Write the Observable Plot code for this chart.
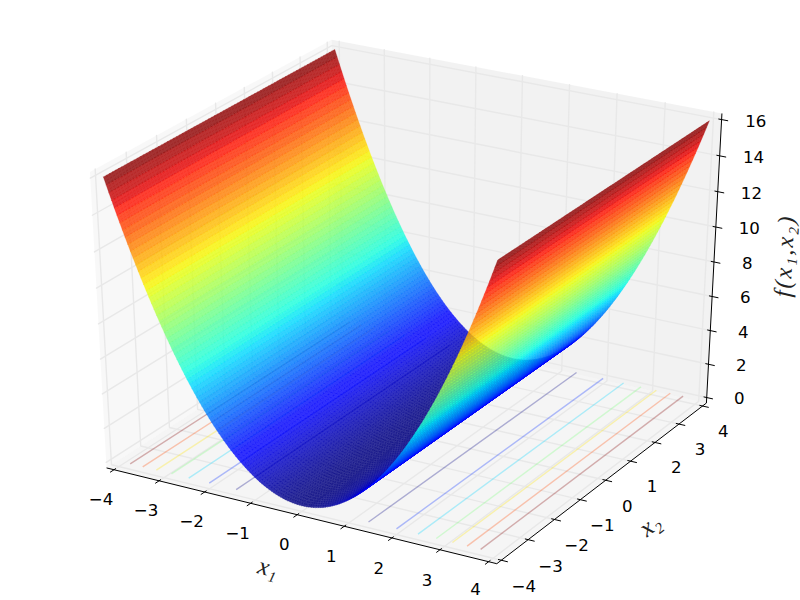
<!DOCTYPE html>
<html>
<head>
<meta charset="utf-8">
<script src="https://cdn.jsdelivr.net/npm/d3@7"></script>
<script src="https://cdn.jsdelivr.net/npm/@observablehq/plot@0.6"></script>
<style>html,body{margin:0;padding:0;background:#fff}svg{display:block}.wide text{letter-spacing:2px}</style>
</head>
<body>
<div id="chart"></div>
<script>
const x1Values = [-4,-3.95,-3.9,-3.85,-3.8,-3.75,-3.7,-3.65,-3.6,-3.55,-3.5,-3.45,-3.4,-3.35,-3.3,-3.25,-3.2,-3.15,-3.1,-3.05,-3,-2.95,-2.9,-2.85,-2.8,-2.75,-2.7,-2.65,-2.6,-2.55,-2.5,-2.45,-2.4,-2.35,-2.3,-2.25,-2.2,-2.15,-2.1,-2.05,-2,-1.95,-1.9,-1.85,-1.8,-1.75,-1.7,-1.65,-1.6,-1.55,-1.5,-1.45,-1.4,-1.35,-1.3,-1.25,-1.2,-1.15,-1.1,-1.05,-1,-0.95,-0.9,-0.85,-0.8,-0.75,-0.7,-0.65,-0.6,-0.55,-0.5,-0.45,-0.4,-0.35,-0.3,-0.25,-0.2,-0.15,-0.1,-0.05,0,0.05,0.1,0.15,0.2,0.25,0.3,0.35,0.4,0.45,0.5,0.55,0.6,0.65,0.7,0.75,0.8,0.85,0.9,0.95,1,1.05,1.1,1.15,1.2,1.25,1.3,1.35,1.4,1.45,1.5,1.55,1.6,1.65,1.7,1.75,1.8,1.85,1.9,1.95,2,2.05,2.1,2.15,2.2,2.25,2.3,2.35,2.4,2.45,2.5,2.55,2.6,2.65,2.7,2.75,2.8,2.85,2.9,2.95,3,3.05,3.1,3.15,3.2,3.25,3.3,3.35,3.4,3.45,3.5,3.55,3.6,3.65,3.7,3.75,3.8,3.85,3.9,3.95,4];
const fValues = [16,15.6025,15.21,14.8225,14.44,14.0625,13.69,13.3225,12.96,12.6025,12.25,11.9025,11.56,11.2225,10.89,10.5625,10.24,9.9225,9.61,9.3025,9,8.7025,8.41,8.1225,7.84,7.5625,7.29,7.0225,6.76,6.5025,6.25,6.0025,5.76,5.5225,5.29,5.0625,4.84,4.6225,4.41,4.2025,4,3.8025,3.61,3.4225,3.24,3.0625,2.89,2.7225,2.56,2.4025,2.25,2.1025,1.96,1.8225,1.69,1.5625,1.44,1.3225,1.21,1.1025,1,0.9025,0.81,0.7225,0.64,0.5625,0.49,0.4225,0.36,0.3025,0.25,0.2025,0.16,0.1225,0.09,0.0625,0.04,0.0225,0.01,0.0025,0,0.0025,0.01,0.0225,0.04,0.0625,0.09,0.1225,0.16,0.2025,0.25,0.3025,0.36,0.4225,0.49,0.5625,0.64,0.7225,0.81,0.9025,1,1.1025,1.21,1.3225,1.44,1.5625,1.69,1.8225,1.96,2.1025,2.25,2.4025,2.56,2.7225,2.89,3.0625,3.24,3.4225,3.61,3.8025,4,4.2025,4.41,4.6225,4.84,5.0625,5.29,5.5225,5.76,6.0025,6.25,6.5025,6.76,7.0225,7.29,7.5625,7.84,8.1225,8.41,8.7025,9,9.3025,9.61,9.9225,10.24,10.5625,10.89,11.2225,11.56,11.9025,12.25,12.6025,12.96,13.3225,13.69,14.0625,14.44,14.8225,15.21,15.6025,16];
const x2Values = [-4,-3.9,-3.8,-3.7,-3.6,-3.5,-3.4,-3.3,-3.2,-3.1,-3,-2.9,-2.8,-2.7,-2.6,-2.5,-2.4,-2.3,-2.2,-2.1,-2,-1.9,-1.8,-1.7,-1.6,-1.5,-1.4,-1.3,-1.2,-1.1,-1,-0.9,-0.8,-0.7,-0.6,-0.5,-0.4,-0.3,-0.2,-0.1,0,0.1,0.2,0.3,0.4,0.5,0.6,0.7,0.8,0.9,1,1.1,1.2,1.3,1.4,1.5,1.6,1.7,1.8,1.9,2,2.1,2.2,2.3,2.4,2.5,2.6,2.7,2.8,2.9,3,3.1,3.2,3.3,3.4,3.5,3.6,3.7,3.8,3.9,4];
const contourLevels = [2,4,6,8,10,12,14];
const contourX1 = [1.414,2,2.449,2.828,3.162,3.464,3.742];
const xTicks = [-4,-3,-2,-1,0,1,2,3,4];
const xTickLabels = ["−4","−3","−2","−1","0","1","2","3","4"];
const zTicks = [0,2,4,6,8,10,12,14,16];
const zTickLabels = ["0","2","4","6","8","10","12","14","16"];

// mplot3d view: elev 30, azim -60, dist 10
const rad = Math.PI/180, el = 30*rad, az = -60*rad, dist = 10;
const n = [Math.cos(el)*Math.cos(az), Math.cos(el)*Math.sin(az), Math.sin(el)];
const uLen = Math.hypot(n[1], n[0]);
const u = [-n[1]/uLen, n[0]/uLen, 0];
const v = [n[1]*u[2]-n[2]*u[1], n[2]*u[0]-n[0]*u[2], n[0]*u[1]-n[1]*u[0]];
const dot = (a,b)=>a[0]*b[0]+a[1]*b[1]+a[2]*b[2];
const project = ([X,Y,Z]) => {
  const p = [X-.5, Y-.5, Z-.5], w = dist - dot(n,p);
  return {px: dot(u,p)/w, py: dot(v,p)/w, depth: dot(n,p)};
};
const nx = x => (x+4)/8, nz = z => z/16;

const lo = -1/48, hi = 1+1/48, d = 1/12;
const rows = (id, pts, extra={}) => pts.map(P => ({id, ...project(P), ...extra}));

const panes = [
  ...rows("px",[[lo,lo,lo],[lo,hi,lo],[lo,hi,hi],[lo,lo,hi],[lo,lo,lo]],{shade:"#f2f2f2"}),
  ...rows("py",[[lo,hi,lo],[hi,hi,lo],[hi,hi,hi],[lo,hi,hi],[lo,hi,lo]],{shade:"#e6e6e6"}),
  ...rows("pz",[[lo,lo,lo],[hi,lo,lo],[hi,hi,lo],[lo,hi,lo],[lo,lo,lo]],{shade:"#ececec"})
];
const grid = [
  ...xTicks.flatMap(t => rows("gx"+t,[[nx(t),lo,lo],[nx(t),hi,lo],[nx(t),hi,hi]])),
  ...xTicks.flatMap(t => rows("gy"+t,[[hi,nx(t),lo],[lo,nx(t),lo],[lo,nx(t),hi]])),
  ...zTicks.flatMap(t => rows("gz"+t,[[lo,lo,nz(t)],[lo,hi,nz(t)],[hi,hi,nz(t)]]))
];
const axesLines = [
  ...rows("ax",[[lo,lo,lo],[hi,lo,lo]]),
  ...rows("ay",[[hi,lo,lo],[hi,hi,lo]]),
  ...rows("az",[[hi,hi,lo],[hi,hi,hi]]),
  ...xTicks.flatMap(t => rows("tx"+t,[[nx(t),lo+.1*d,lo],[nx(t),lo-.2*d,lo]])),
  ...xTicks.flatMap(t => rows("ty"+t,[[hi-.1*d,nx(t),lo],[hi+.2*d,nx(t),lo]])),
  ...zTicks.flatMap(t => rows("tz"+t,[[hi-.1*d,hi,nz(t)],[hi+.2*d,hi,nz(t)]]))
];
const sp = .7*d;
const xTickText = xTicks.map((t,i)=>({...project([nx(t),lo-sp,lo-sp]),label:xTickLabels[i]}));
const tickText = [
  ...xTickText.slice(0,-1),
  ...xTicks.map((t,i)=>({...project([hi+sp,nx(t),lo-sp]),label:xTickLabels[i]})),
  ...zTicks.map((t,i)=>({...project([hi+sp,hi+sp,nz(t)]),label:zTickLabels[i]}))
];
const lastTickText = xTickText.slice(-1);
const lp = 1.3*d;
const x1Text = [{...project([.5,lo-lp,lo-lp]),label:"x₁",rot:14}];
const x2Text = [{...project([hi+lp,.5,lo-lp]),label:"x₂",rot:-38}];
const fText = [{...project([hi+lp,hi+lp,.5]),label:"f(x₁,x₂)",rot:-87}];
const contours = [-1,1].flatMap(s => contourX1.flatMap((c,i) =>
  rows("c"+s+i,[[nx(s*c),0,0],[nx(s*c),1,0]],{val:(contourLevels[i]-2)*16/12})));

// faces
const faces = [];
for (let i=0;i<x1Values.length-1;i++) for (let j=0;j<x2Values.length-1;j++) {
  const a=nx(x1Values[i]), b=nx(x1Values[i+1]), c=nx(x2Values[j]), e=nx(x2Values[j+1]);
  const za=nz(fValues[i]), zb=nz(fValues[i+1]);
  const pts=[[a,c,za],[b,c,zb],[b,e,zb],[a,e,za],[a,c,za]];
  faces.push({pts, val:(fValues[i]+fValues[i+1])/2, depth:project([(a+b)/2,(c+e)/2,(za+zb)/2]).depth});
}
faces.sort((p,q)=>p.depth-q.depth);
const surface = faces.flatMap((f,k)=>rows(k,f.pts,{val:f.val}));

// jet colormap
const jetR = d3.scaleLinear([0,.35,.66,.89,1],[0,0,1,1,.5]);
const jetG = d3.scaleLinear([0,.125,.375,.64,.91,1],[0,0,1,1,0,0]);
const jetB = d3.scaleLinear([0,.11,.34,.65,1],[.5,1,1,0,0]);
const jet = t => `rgb(${Math.round(jetR(t)*255)},${Math.round(jetG(t)*255)},${Math.round(jetB(t)*255)})`;

const tickStyle = {x:"px",y:"py",text:"label",fontSize:16.67,fontFamily:"DejaVu Sans",fill:"#000",textAnchor:"middle",lineAnchor:"middle"};
const mathStyle = {x:"px",y:"py",text:"label",rotate:"rot",fontStyle:"italic",fontFamily:"Liberation Serif",fill:"#222",textAnchor:"middle",lineAnchor:"middle"};
const chart = Plot.plot({
  width:800, height:600, margin:0,
  style:{background:"#fff"},
  x:{axis:null, domain:[-.095,.09]},
  y:{axis:null, domain:[-.095,.09]},
  color:{type:"linear", domain:[0,16], interpolate:jet},
  marks:[
    Plot.line(panes,{x:"px",y:"py",z:"id",fill:{value:"shade",scale:null},fillOpacity:.5,stroke:"none"}),
    Plot.line(grid,{x:"px",y:"py",z:"id",stroke:"#e8e8e8",strokeWidth:1.4,strokeLinejoin:"miter"}),
    Plot.line(contours,{x:"px",y:"py",z:"id",stroke:"val",strokeOpacity:.3,strokeWidth:1.4,strokeLinecap:"butt"}),
    Plot.line(axesLines,{x:"px",y:"py",z:"id",stroke:"#000",strokeWidth:1,strokeLinecap:"butt"}),
    Plot.line(surface,{x:"px",y:"py",z:"id",fill:"val",stroke:"val",fillOpacity:.8,strokeOpacity:.6,strokeWidth:.45,strokeLinejoin:"bevel"}),
    Plot.text(tickText,{...tickStyle,dy:5}),
    Plot.text(lastTickText,{...tickStyle,dy:2.5}),
    Plot.text(x1Text,{...mathStyle,dx:-5,dy:6,fontSize:25}),
    Plot.text(x2Text,{...mathStyle,dx:4,dy:6,fontSize:25}),
    Plot.text(fText,{...mathStyle,dx:9,dy:0,fontSize:24,className:"wide"})
  ]
});
document.getElementById("chart").appendChild(chart);
</script>
</body>
</html>
